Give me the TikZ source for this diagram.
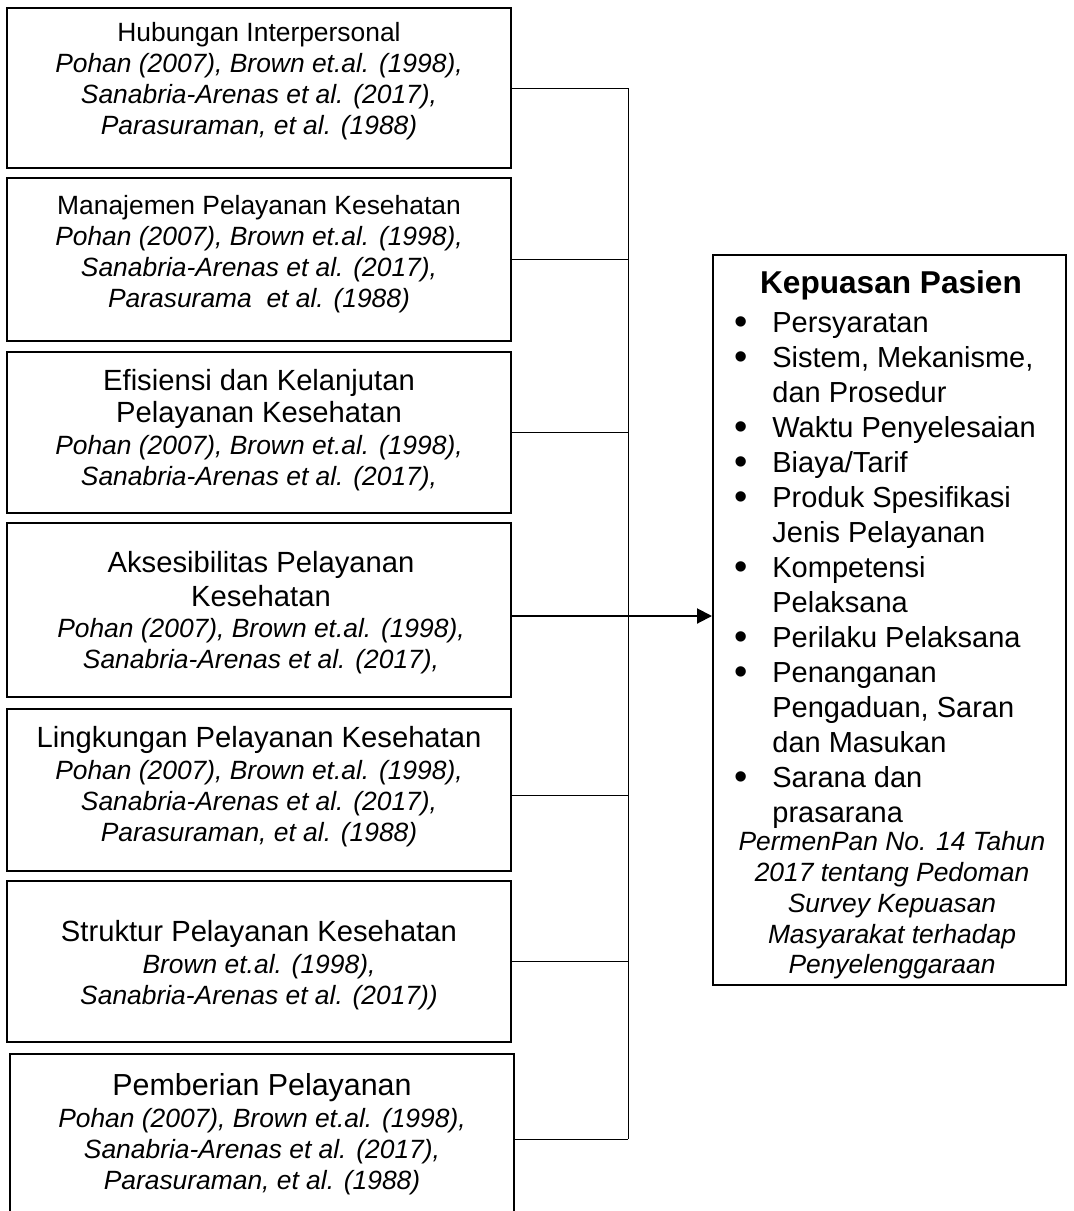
\documentclass[tikz,border=0pt]{standalone}
\usepackage{fontspec}
\setmainfont{Liberation Sans}
\usetikzlibrary{arrows.meta}
\newcommand{\hd}{\fontsize{14.6}{16}\selectfont}
\newcommand{\kbul}{\makebox[18pt][l]{\hspace*{-1pt}\raisebox{-0.6pt}{\fontsize{19}{19}\selectfont\textbullet}}}
\newcommand{\kind}{\hspace*{18pt}}
\begin{document}
\begin{tikzpicture}[x=0.5pt,y=0.5pt,
  box/.style={draw,line width=1pt,inner sep=0pt,minimum width=252pt},
  ref/.style={align=center,inner sep=0pt,font=\fontsize{13.2}{15.5}\selectfont},
  conn/.style={draw,line width=0.5pt},
  arr/.style={draw,line width=1pt,-{Triangle[length=7.5pt,width=7.5pt]}}]
\useasboundingbox (0,0) rectangle (1073,-1211);
\node [box,minimum height=80pt] (b1) at (259,-88) {};
\node [box,minimum height=81.5pt] (b2) at (259,-259.5) {};
\node [box,minimum height=80.5pt] (b3) at (259,-432.5) {};
\node [box,minimum height=87pt] (b4) at (259,-610) {};
\node [box,minimum height=81pt] (b5) at (259,-790) {};
\node [box,minimum height=80.5pt] (b6) at (259,-961.5) {};
\node [box,minimum height=81pt] (b7) at (262,-1135) {};
\node [ref] (t1) at (259,-81) {Hubungan Interpersonal\\ \textit{Pohan (2007), Brown et.al. (1998),}\\ \textit{Sanabria-Arenas et al. (2017),}\\ \textit{Parasuraman, et al. (1988)}};
\node [ref] (t2) at (259,-254.5) {Manajemen Pelayanan Kesehatan\\ \textit{Pohan (2007), Brown et.al. (1998),}\\ \textit{Sanabria-Arenas et al. (2017),}\\ \textit{Parasurama\ \ et al. (1988)}};
\node [ref] (t3) at (259,-430.5) {\hd Efisiensi dan Kelanjutan\\[0.5pt] \hd Pelayanan Kesehatan\\[0.5pt] \textit{Pohan (2007), Brown et.al. (1998),}\\ \textit{Sanabria-Arenas et al. (2017),}};
\node [ref] (t4) at (261,-613) {\hd Aksesibilitas Pelayanan\\[1.5pt] \hd Kesehatan\\ \textit{Pohan (2007), Brown et.al. (1998),}\\ \textit{Sanabria-Arenas et al. (2017),}};
\node [ref] (t5) at (259,-787) {\hd Lingkungan Pelayanan Kesehatan\\[0.5pt] \textit{Pohan (2007), Brown et.al. (1998),}\\ \textit{Sanabria-Arenas et al. (2017),}\\ \textit{Parasuraman, et al. (1988)}};
\node [ref] (t6) at (259,-965.5) {\hd Struktur Pelayanan Kesehatan\\[0.5pt] \textit{Brown et.al. (1998),}\\ \textit{Sanabria-Arenas et al. (2017))}};
\node [ref] (t7) at (262,-1134) {\fontsize{15.2}{16.5}\selectfont Pemberian Pelayanan\\[0.5pt] \textit{Pohan (2007), Brown et.al. (1998),}\\ \textit{Sanabria-Arenas et al. (2017),}\\ \textit{Parasuraman, et al. (1988)}};
\node [draw,line width=1pt,inner sep=0pt,minimum width=176.5pt,minimum height=365pt] (kep) at (889.5,-620) {};
\node [inner sep=0pt,font=\fontsize{15.8}{18}\selectfont\bfseries] (kh) at (891,-285.5) {Kepuasan Pasien};
\node [align=left,inner sep=0pt,anchor=west,font=\fontsize{14.5}{17.5}\selectfont] (kl) at (736,-571) {\kbul Persyaratan\\ \kbul Sistem, Mekanisme,\\ \kind dan Prosedur\\ \kbul Waktu Penyelesaian\\ \kbul Biaya/Tarif\\ \kbul Produk Spesifikasi\\ \kind Jenis Pelayanan\\ \kbul Kompetensi\\ \kind Pelaksana\\ \kbul Perilaku Pelaksana\\ \kbul Penanganan\\ \kind Pengaduan, Saran\\ \kind dan Masukan\\ \kbul Sarana dan\\ \kind prasarana};
\node [ref,font=\fontsize{13.2}{15.4}\selectfont\itshape] (kr) at (892,-905.5) {PermenPan No. 14 Tahun\\ 2017 tentang Pedoman\\ Survey Kepuasan\\ Masyarakat terhadap\\ Penyelenggaraan};
\coordinate (sp) at (628,0);
\draw [conn] (b1.east) -- (b1.east -| sp);
\draw [conn] (b2.east) -- (b2.east -| sp);
\draw [conn] (b3.east) -- (b3.east -| sp);
\draw [conn] ([yshift=-2.5pt]b5.east) -- ([yshift=-2.5pt]b5.east -| sp);
\draw [conn] (b6.east) -- (b6.east -| sp);
\draw [conn] ([yshift=-2pt]b7.east) -- ([yshift=-2pt]b7.east -| sp);
\draw [conn] (b1.east -| sp) -- ([yshift=-2pt]b7.east -| sp);
\draw [arr] ([yshift=-3pt]b4.east) -- ([yshift=-3pt]b4.east -| kep.west);
\end{tikzpicture}
\end{document}
